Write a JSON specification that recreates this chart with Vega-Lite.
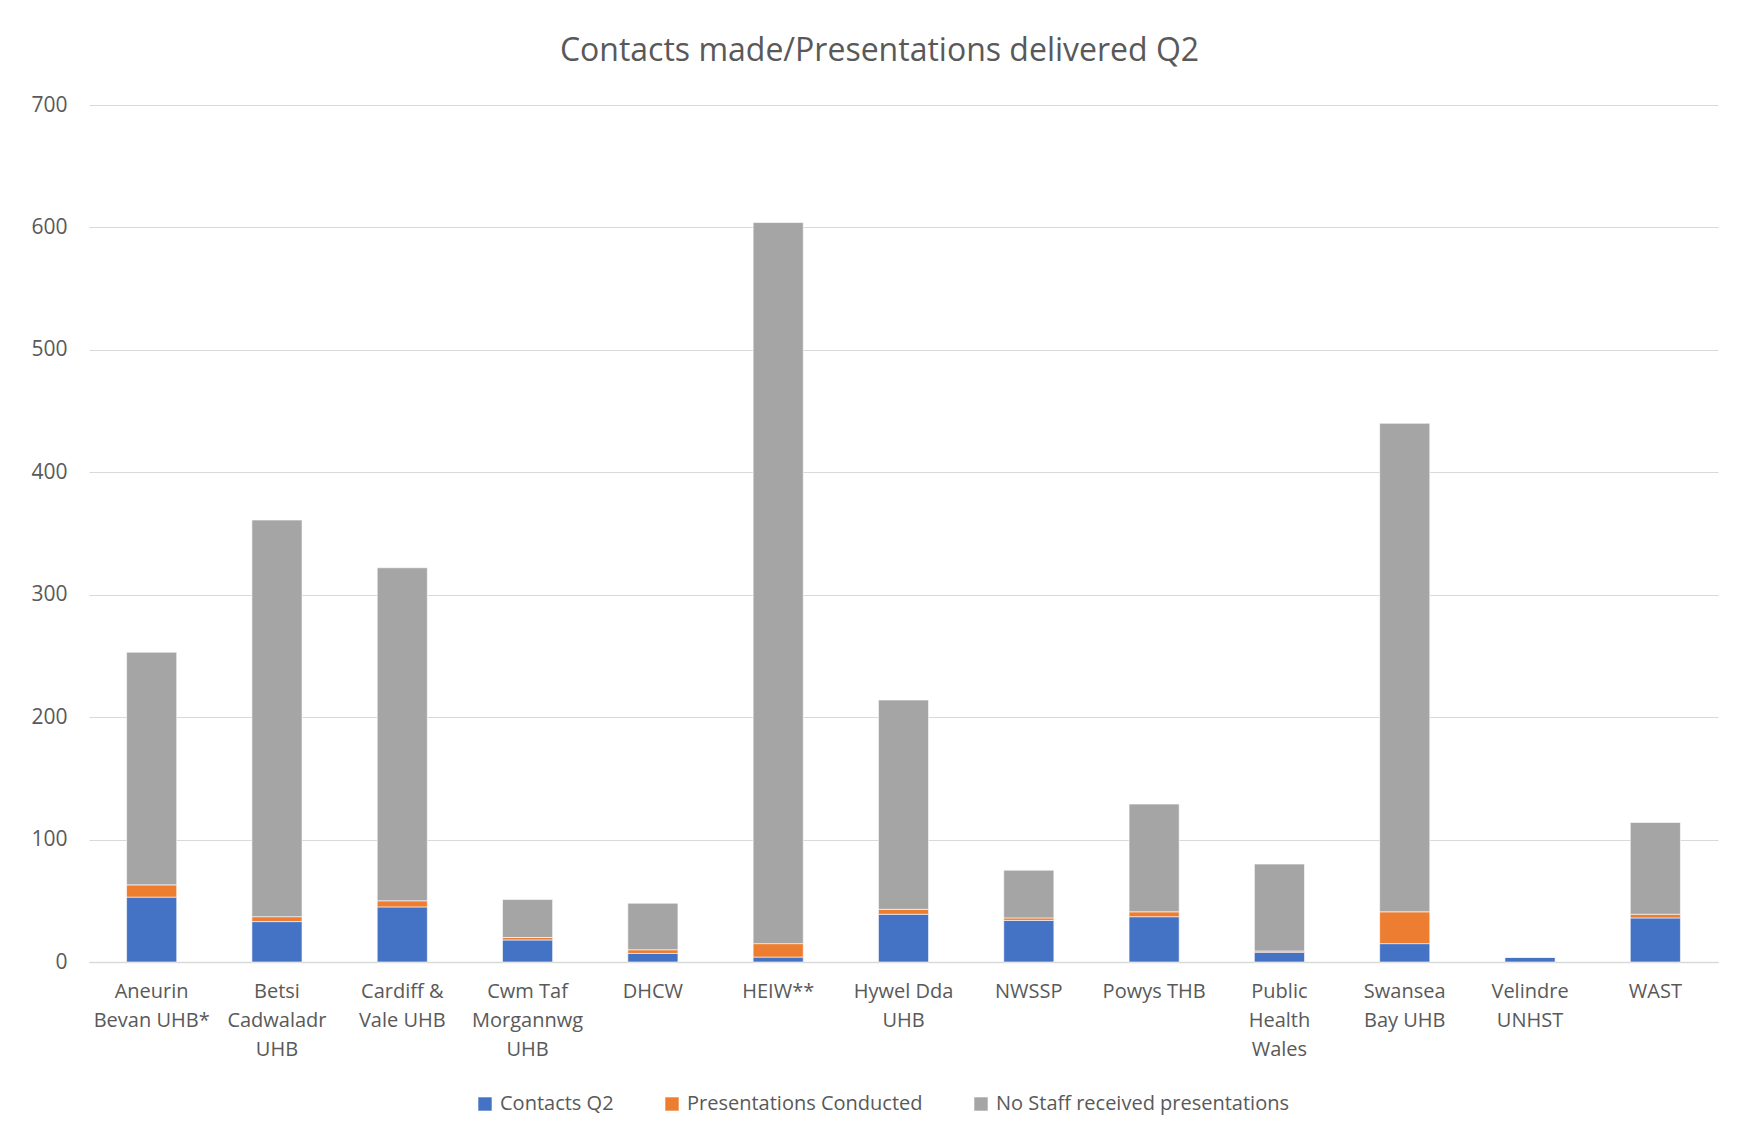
{
  "$schema": "https://vega.github.io/schema/vega-lite/v6.json",
  "autosize": {"type": "none"},
  "padding": {"left": 89, "top": 105, "right": 20, "bottom": 177},
  "width": 1629,
  "height": 857,
  "background": "white",
  "title": {
    "text": "Contacts made/Presentations delivered Q2",
    "font": "Open Sans",
    "fontSize": 32,
    "fontWeight": "normal",
    "color": "#595959",
    "anchor": "middle",
    "dx": -24,
    "offset": 26
  },
  "data": {
    "values": [
      {"org": "Aneurin Bevan UHB*", "series": "Contacts Q2", "k": 1, "n": 53},
      {"org": "Aneurin Bevan UHB*", "series": "Presentations Conducted", "k": 2, "n": 10},
      {"org": "Aneurin Bevan UHB*", "series": "No Staff received presentations", "k": 3, "n": 190},
      {"org": "Betsi Cadwaladr UHB", "series": "Contacts Q2", "k": 1, "n": 33},
      {"org": "Betsi Cadwaladr UHB", "series": "Presentations Conducted", "k": 2, "n": 4},
      {"org": "Betsi Cadwaladr UHB", "series": "No Staff received presentations", "k": 3, "n": 324},
      {"org": "Cardiff & Vale UHB", "series": "Contacts Q2", "k": 1, "n": 45},
      {"org": "Cardiff & Vale UHB", "series": "Presentations Conducted", "k": 2, "n": 5},
      {"org": "Cardiff & Vale UHB", "series": "No Staff received presentations", "k": 3, "n": 272},
      {"org": "Cwm Taf Morgannwg UHB", "series": "Contacts Q2", "k": 1, "n": 18},
      {"org": "Cwm Taf Morgannwg UHB", "series": "Presentations Conducted", "k": 2, "n": 2},
      {"org": "Cwm Taf Morgannwg UHB", "series": "No Staff received presentations", "k": 3, "n": 31},
      {"org": "DHCW", "series": "Contacts Q2", "k": 1, "n": 7},
      {"org": "DHCW", "series": "Presentations Conducted", "k": 2, "n": 3},
      {"org": "DHCW", "series": "No Staff received presentations", "k": 3, "n": 38},
      {"org": "HEIW**", "series": "Contacts Q2", "k": 1, "n": 4},
      {"org": "HEIW**", "series": "Presentations Conducted", "k": 2, "n": 11},
      {"org": "HEIW**", "series": "No Staff received presentations", "k": 3, "n": 589},
      {"org": "Hywel Dda UHB", "series": "Contacts Q2", "k": 1, "n": 39},
      {"org": "Hywel Dda UHB", "series": "Presentations Conducted", "k": 2, "n": 4},
      {"org": "Hywel Dda UHB", "series": "No Staff received presentations", "k": 3, "n": 171},
      {"org": "NWSSP", "series": "Contacts Q2", "k": 1, "n": 34},
      {"org": "NWSSP", "series": "Presentations Conducted", "k": 2, "n": 2},
      {"org": "NWSSP", "series": "No Staff received presentations", "k": 3, "n": 39},
      {"org": "Powys THB", "series": "Contacts Q2", "k": 1, "n": 37},
      {"org": "Powys THB", "series": "Presentations Conducted", "k": 2, "n": 4},
      {"org": "Powys THB", "series": "No Staff received presentations", "k": 3, "n": 88},
      {"org": "Public Health Wales", "series": "Contacts Q2", "k": 1, "n": 8},
      {"org": "Public Health Wales", "series": "Presentations Conducted", "k": 2, "n": 1},
      {"org": "Public Health Wales", "series": "No Staff received presentations", "k": 3, "n": 71},
      {"org": "Swansea Bay UHB", "series": "Contacts Q2", "k": 1, "n": 15},
      {"org": "Swansea Bay UHB", "series": "Presentations Conducted", "k": 2, "n": 26},
      {"org": "Swansea Bay UHB", "series": "No Staff received presentations", "k": 3, "n": 399},
      {"org": "Velindre UNHST", "series": "Contacts Q2", "k": 1, "n": 4},
      {"org": "Velindre UNHST", "series": "Presentations Conducted", "k": 2, "n": 0},
      {"org": "Velindre UNHST", "series": "No Staff received presentations", "k": 3, "n": 0},
      {"org": "WAST", "series": "Contacts Q2", "k": 1, "n": 36},
      {"org": "WAST", "series": "Presentations Conducted", "k": 2, "n": 3},
      {"org": "WAST", "series": "No Staff received presentations", "k": 3, "n": 75}
    ]
  },
  "mark": {"type": "bar", "stroke": "white", "strokeWidth": 0.6},
  "encoding": {
    "x": {
      "field": "org",
      "type": "nominal",
      "sort": null,
      "title": null,
      "scale": {"paddingInner": 0.6, "paddingOuter": 0.3},
      "axis": {
        "labelAngle": 0,
        "labelFont": "Open Sans",
        "labelFontSize": 20,
        "labelColor": "#595959",
        "labelPadding": 19,
        "labelLineHeight": 29,
        "labelBaseline": "top",
        "labelLimit": 0,
        "ticks": false,
        "domainColor": "#d9d9d9",
        "domainWidth": 1.5,
        "labelExpr": "datum.label == 'Aneurin Bevan UHB*' ? ['Aneurin', 'Bevan UHB*'] : datum.label == 'Betsi Cadwaladr UHB' ? ['Betsi', 'Cadwaladr', 'UHB'] : datum.label == 'Cardiff & Vale UHB' ? ['Cardiff &', 'Vale UHB'] : datum.label == 'Cwm Taf Morgannwg UHB' ? ['Cwm Taf', 'Morgannwg', 'UHB'] : datum.label == 'Hywel Dda UHB' ? ['Hywel Dda', 'UHB'] : datum.label == 'Public Health Wales' ? ['Public', 'Health', 'Wales'] : datum.label == 'Swansea Bay UHB' ? ['Swansea', 'Bay UHB'] : datum.label == 'Velindre UNHST' ? ['Velindre', 'UNHST'] : datum.label"
      }
    },
    "y": {
      "field": "n",
      "type": "quantitative",
      "stack": "zero",
      "title": null,
      "scale": {"domain": [0, 700], "nice": false},
      "axis": {
        "values": [0, 100, 200, 300, 400, 500, 600, 700],
        "labelFont": "Open Sans",
        "labelFontSize": 21,
        "labelColor": "#595959",
        "labelPadding": 22,
        "ticks": false,
        "domain": false,
        "gridColor": "#d9d9d9",
        "gridWidth": 1.2
      }
    },
    "color": {
      "field": "series",
      "type": "nominal",
      "scale": {
        "domain": ["Contacts Q2", "Presentations Conducted", "No Staff received presentations"],
        "range": ["#4472C4", "#ED7D31", "#A5A5A5"]
      },
      "legend": {
        "title": null,
        "orient": "none",
        "legendX": 386,
        "legendY": 989,
        "direction": "horizontal",
        "symbolType": "square",
        "symbolSize": 180,
        "symbolStrokeWidth": 0,
        "labelFont": "Open Sans",
        "labelFontSize": 20,
        "labelColor": "#595959",
        "labelLimit": 0,
        "labelOffset": 5,
        "columnPadding": 48
      }
    },
    "order": {"field": "k", "type": "quantitative", "sort": "ascending"}
  },
  "config": {
    "view": {"stroke": null}
  }
}
